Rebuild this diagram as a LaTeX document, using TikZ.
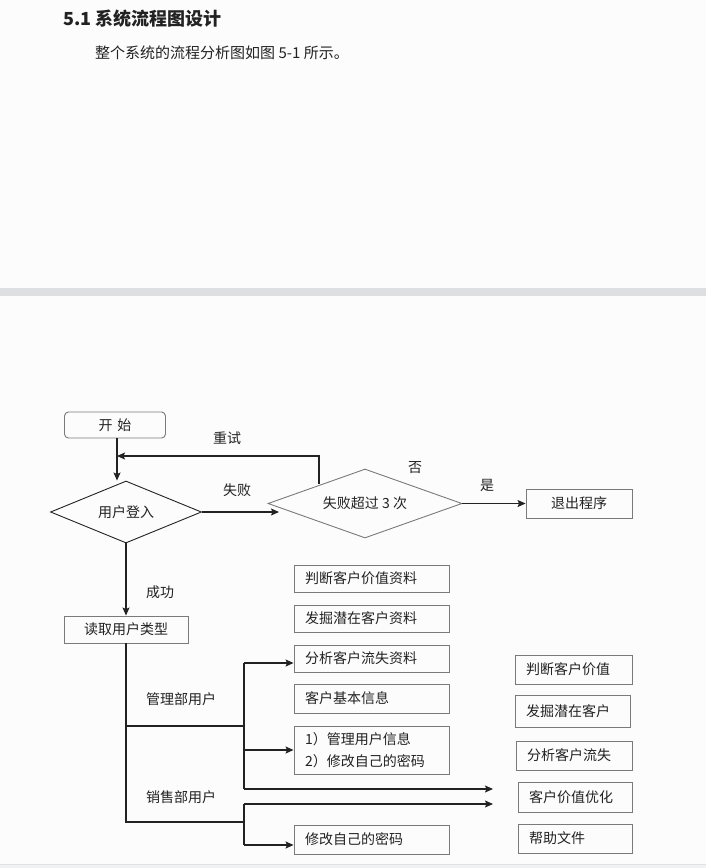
\documentclass[tikz,border=0pt]{standalone}
\usepackage{fontspec}
\setmainfont{Noto Sans CJK SC}
\usetikzlibrary{shapes.geometric,arrows.meta}
\definecolor{boxgray}{HTML}{7A7A7A}
\definecolor{linedark}{HTML}{222222}
\definecolor{txt}{HTML}{222222}
\definecolor{band}{HTML}{DEDFE1}
\definecolor{bg}{HTML}{FCFCFC}
\definecolor{foot}{HTML}{F1F2F4}
\definecolor{footline}{HTML}{E0E2E5}
\tikzset{
  every node/.style={text=txt, font=\fontsize{14}{16}\selectfont},
  box/.style={draw=boxgray, line width=0.9pt, inner sep=0pt},
  lbox/.style={box, align=left, inner xsep=11pt, text width=#1},
  dia/.style={diamond, draw=#1, line width=0.9pt, inner sep=0pt},
  conn/.style={draw=linedark, line width=1.2pt},
  arr/.style={conn, -{Stealth[length=8pt,width=7pt,inset=1.5pt]}},
  lbl/.style={inner sep=0pt}
}
\begin{document}
\begin{tikzpicture}[x=1pt,y=-1pt]
\fill[bg] (0,0) rectangle (706,868);
\useasboundingbox (0,0) rectangle (706,868);
\fill[band] (0,288) rectangle (706,296);
\fill[foot] (0,864) rectangle (706,868);
\draw[footline, line width=0.6pt] (0,864) -- (706,864);

% heading and text
\node[lbl, anchor=west, font=\fontsize{18}{20}\selectfont\bfseries] (title) at (63,19) {5.1 系统流程图设计};
\node[lbl, anchor=west, font=\fontsize{15}{18}\selectfont] (intro) at (95,53) {整个系统的流程分析图如图 5-1 所示。};

% main nodes
\node[box, rounded corners=4pt, minimum width=101pt, minimum height=26pt] (start) at (115,425) {开\,\,始};
\node[dia=linedark, minimum width=151pt, minimum height=62pt, aspect=2.43] (login) at (126,512) {用户登入};
\node[dia=boxgray, minimum width=194pt, minimum height=69pt, aspect=2.8] (fail3) at (365,503.5) {失败超过 3 次};
\node[box, minimum width=106pt, minimum height=29pt] (exit) at (579,503.5) {退出程序};
\node[box, minimum width=124pt, minimum height=27pt] (read) at (126,629.5) {读取用户类型};

% middle column
\node[lbox=133pt, minimum height=27pt] (m1) at (371.5,578.5) {判断客户价值资料};
\node[lbox=133pt, minimum height=27pt] (m2) at (371.5,618.5) {发掘潜在客户资料};
\node[lbox=133pt, minimum height=27pt] (m3) at (371.5,658.5) {分析客户流失资料};
\node[lbox=133pt, minimum height=29pt] (m4) at (371.5,698.5) {客户基本信息};
\node[lbox=133pt, minimum height=48pt, font=\fontsize{14}{22}\selectfont] (m5) at (371.5,750) {1）管理用户信息\\2）修改自己的密码};
\node[lbox=133pt, minimum height=29pt] (m6) at (371.5,839.5) {修改自己的密码};

% right column
\node[lbox=95pt, minimum height=29pt] (r1) at (573.5,669.5) {判断客户价值};
\node[lbox=93pt, minimum height=32pt] (r2) at (572.5,711) {发掘潜在客户};
\node[lbox=94pt, minimum height=29pt] (r3) at (574,755.5) {分析客户流失};
\node[lbox=92pt, minimum height=30pt] (r4) at (575,797) {客户价值优化};
\node[lbox=92pt, minimum height=29pt] (r5) at (575,838.5) {帮助文件};

% labels
\node[lbl] (tRetry) at (227,438) {重试};
\node[lbl] (tFail) at (237,490) {失败};
\node[lbl] (tNo) at (415,468) {否};
\node[lbl] (tYes) at (487,485) {是};
\node[lbl] (tOk) at (160,592) {成功};
\node[lbl] (tMgr) at (181,699) {管理部用户};
\node[lbl] (tSale) at (181,797) {销售部用户};

% helper coordinates
\coordinate (retryS) at (319,484);
\coordinate (retryE) at (117,456);
\coordinate (failE) at (279,512);
\coordinate (j0) at (126,822);
\coordinate (j1) at (126,726);
\coordinate (b1) at (244,726);
\coordinate (b2) at (244,822);
\coordinate (u1) at (244,663);
\coordinate (u3) at (244,789);
\coordinate (t1) at (493,789);
\coordinate (l1) at (244,804);
\coordinate (t2) at (493,804);
\coordinate (l2) at (244,845);

% connectors
\draw[arr] (start.south -| retryE) -- (retryE |- login.north);
\draw[arr] (retryS) |- (retryE);
\draw[arr] (login.east) -- (failE);
\draw[arr] (fail3.east) -- (exit.west);
\draw[arr] (login.south) -- (read.north);
\draw[conn] (read.south) -- (j0) -- (b2);
\draw[conn] (j1) -- (b1);
\draw[conn] (u1) -- (u3);
\draw[arr] (u1) -- (m3.west |- u1);
\draw[arr] (m5.west -| b1) -- (m5.west);
\draw[arr] (u3) -- (t1);
\draw[conn] (l1) -- (l2);
\draw[arr] (l1) -- (t2);
\draw[arr] (l2) -- (m6.west |- l2);
\end{tikzpicture}
\end{document}
